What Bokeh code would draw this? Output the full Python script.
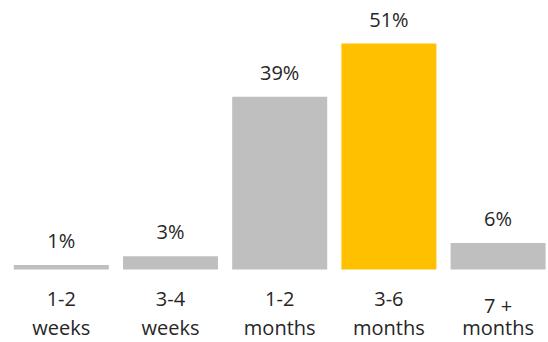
from bokeh.plotting import figure
from bokeh.models import ColumnDataSource, Range1d
from bokeh.core.properties import value
from bokeh.embed import file_html
from bokeh.resources import INLINE

categories = ["1-2\nweeks", "3-4\nweeks", "1-2\nmonths", "3-6\nmonths", "7 +\nmonths"]
values = [1, 3, 39, 51, 6]
value_labels = ["1%", "3%", "39%", "51%", "6%"]
highlight = "3-6\nmonths"

GRAY = "#BFBFBF"
GOLD = "#FFC000"
TEXT = "#262626"
FONT = "Open Sans"

xs = list(range(len(categories)))
colors = [GOLD if c == highlight else GRAY for c in categories]
line1 = [c.split("\n")[0] for c in categories]
line2 = [c.split("\n")[1] for c in categories]
src = ColumnDataSource(dict(x=xs, top=values, lab=value_labels, l1=line1, l2=line2,
                            color=colors, zero=[0] * len(xs)))

p = figure(width=548, height=342, output_backend="svg", toolbar_location=None,
           x_range=Range1d(-0.5568, 4.4615), y_range=Range1d(-16.47, 60.71),
           min_border=0)
p.outline_line_color = None
p.axis.visible = False
p.grid.visible = False
p.background_fill_color = "white"
p.border_fill_color = "white"

p.vbar(x="x", top="top", bottom=0, width=0.87, color="color", line_color=None, source=src)
p.text(x="x", y="top", text="lab", source=src, text_align="center", text_baseline="bottom",
       y_offset=-11, text_font=value(FONT), text_font_size="20px", text_color=TEXT)
p.text(x="x", y="zero", text="l1", source=src, text_align="center", text_baseline="top",
       y_offset=22, text_font=value(FONT), text_font_size="20px", text_color=TEXT)
p.text(x="x", y="zero", text="l2", source=src, text_align="center", text_baseline="top",
       y_offset=44, text_font=value(FONT), text_font_size="20px", text_color=TEXT)

open("out.html", "w").write(file_html(p, INLINE))
